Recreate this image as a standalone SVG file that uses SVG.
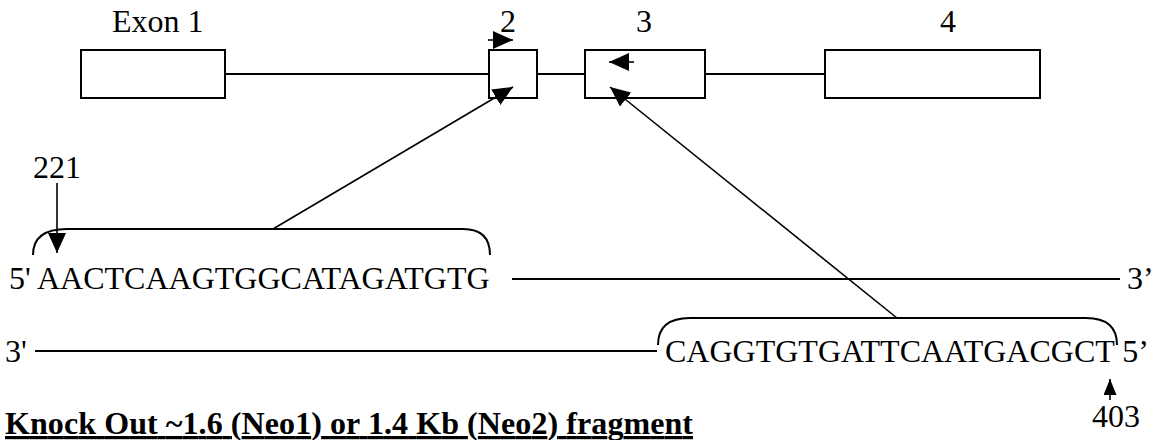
<svg xmlns="http://www.w3.org/2000/svg" width="1156" height="440" viewBox="0 0 1156 440" font-family="'Liberation Serif', 'DejaVu Serif', serif">
<style>
  text { font-family: 'Liberation Serif', 'DejaVu Serif', serif; font-size: 32px; fill: #000; }
  .bold { font-weight: bold; text-decoration: underline; }
  .box { fill: #fff; stroke: #000; stroke-width: 2; }
  .ln { fill: none; stroke: #000; stroke-width: 2; }
  .ar { fill: none; stroke: #000; stroke-width: 1.6; }
</style>
<defs>
  <marker id="ah" markerUnits="userSpaceOnUse" markerWidth="20" markerHeight="18" viewBox="0 0 20 18" refX="20" refY="9" orient="auto">
    <path d="M0,0 L20,9 L0,18 z" fill="#000"/>
  </marker>
  <marker id="ahs" markerUnits="userSpaceOnUse" markerWidth="16" markerHeight="13" viewBox="0 0 16 13" refX="16" refY="6.5" orient="auto">
    <path d="M0,0 L16,6.5 L0,13 z" fill="#000"/>
  </marker>
</defs>

<g id="introns">
  <line class="ln" x1="225" y1="74" x2="489" y2="74"/>
  <line class="ln" x1="537" y1="74" x2="585" y2="74"/>
  <line class="ln" x1="705" y1="74" x2="825" y2="74"/>
</g>

<g id="exon1">
  <rect class="box" x="81" y="50" width="144" height="48"/>
  <text x="112" y="32">Exon 1</text>
</g>
<g id="exon2">
  <rect class="box" x="489" y="50" width="48" height="48"/>
  <text x="500" y="32">2</text>
</g>
<g id="exon3">
  <rect class="box" x="585" y="50" width="120" height="48"/>
  <text x="636" y="32">3</text>
</g>
<g id="exon4">
  <rect class="box" x="825" y="50" width="215" height="48"/>
  <text x="940" y="32">4</text>
</g>

<g id="strand-top">
  <text x="9" y="289">5' AACTCAAGTGGCATAGATGTG</text>
  <line class="ln" x1="512" y1="279" x2="1120" y2="279"/>
  <text x="1127" y="289">3’</text>
</g>

<g id="strand-bottom">
  <text x="5" y="362">3'</text>
  <line class="ln" x1="35" y1="351" x2="657" y2="351"/>
  <text x="665" y="362">CAGGTGTGATTCAATGACGCT 5’</text>
</g>

<g id="label-221">
  <text x="33" y="178">221</text>
</g>
<g id="label-403">
  <text x="1092" y="427">403</text>
</g>

<g id="brackets">
  <path class="ln" d="M33,255 Q33,229 67,229 H463 Q490,229 490,255"/>
  <path class="ln" d="M658,345 Q658,318 690,318 H1086 Q1117,318 1117,345"/>
</g>

<g id="connectors">
  <line class="ar" x1="488" y1="40" x2="513" y2="40" marker-end="url(#ah)"/>
  <line class="ar" x1="634" y1="62" x2="609" y2="62" marker-end="url(#ah)"/>
  <line class="ar" x1="273" y1="229" x2="513" y2="87" marker-end="url(#ah)"/>
  <line class="ar" x1="897" y1="318" x2="610" y2="87" marker-end="url(#ah)"/>
  <line class="ar" x1="57" y1="183" x2="57" y2="253" marker-end="url(#ah)"/>
  <line class="ar" x1="1110" y1="400" x2="1110" y2="379" stroke-width="2" marker-end="url(#ahs)"/>
</g>

<g id="caption">
  <text class="bold" x="5" y="434" textLength="688" lengthAdjust="spacing">Knock Out ~1.6 (Neo1) or 1.4 Kb (Neo2) fragment</text>
</g>
</svg>
